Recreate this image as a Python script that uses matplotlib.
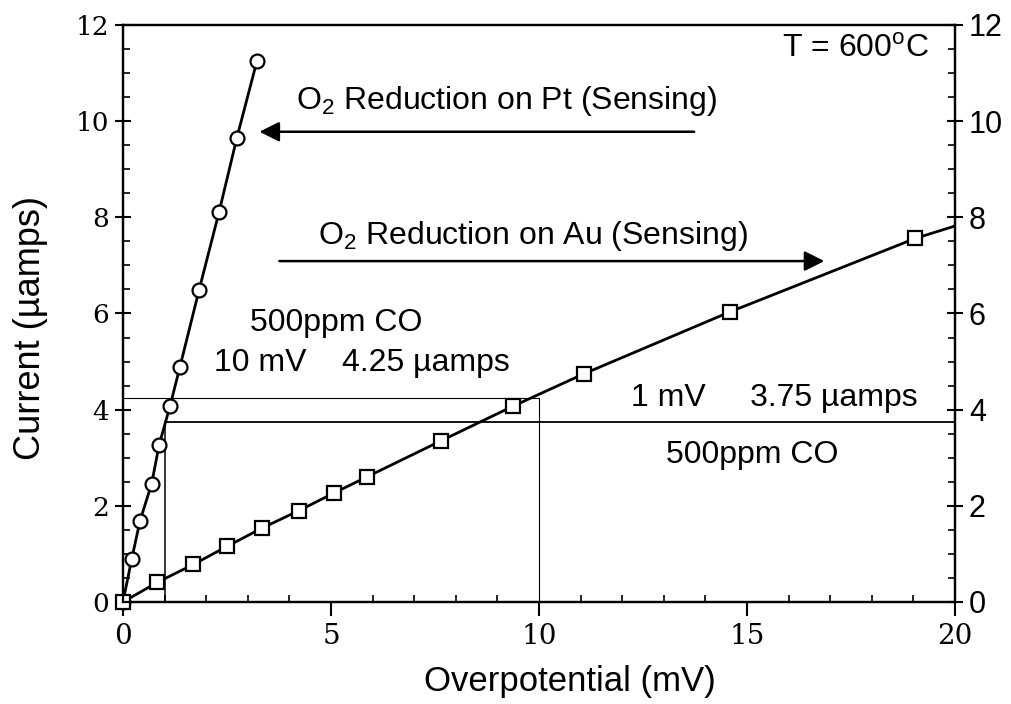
import matplotlib
matplotlib.use("Agg")
import matplotlib.pyplot as plt
from matplotlib.ticker import MultipleLocator

plt.rcParams['font.family'] = ['Liberation Sans', 'DejaVu Sans']
plt.rcParams['mathtext.fontset'] = 'custom'
plt.rcParams['mathtext.rm'] = 'Liberation Sans'

# Pt electrode (circles)
pt_x = [0.0, 0.21, 0.41, 0.69, 0.87, 1.13, 1.37, 1.83, 2.31, 2.74, 3.22]
pt_y = [0.0, 0.89, 1.69, 2.46, 3.27, 4.07, 4.89, 6.49, 8.11, 9.66, 11.25]

# Au electrode (squares)
au_x = [0.0, 0.83, 1.69, 2.51, 3.35, 4.23, 5.08, 5.86, 7.64, 9.37, 11.09, 14.58, 19.04]
au_y = [0.0, 0.41, 0.78, 1.16, 1.54, 1.90, 2.27, 2.60, 3.35, 4.07, 4.75, 6.03, 7.56]
au_line_end = (20.0, 7.82)

# reference readings (500ppm CO)
pt_ref = (1.0, 3.75)
au_ref = (10.0, 4.25)

x_ticks = [0, 5, 10, 15, 20]
y_ticks = [0, 2, 4, 6, 8, 10, 12]

fig = plt.figure(figsize=(10.12, 7.04), dpi=100)
ax = fig.add_axes([0.1215, 0.1449, 0.8222, 0.8196])

ax.set_xlim(0, 20)
ax.set_ylim(0, 12)

# reference lines
ax.plot([pt_ref[0], pt_ref[0]], [0, pt_ref[1]], color='black', lw=1.1)
ax.plot([pt_ref[0], 20], [pt_ref[1], pt_ref[1]], color='black', lw=1.3)
ax.plot([au_ref[0], au_ref[0]], [0, au_ref[1]], color='black', lw=0.8)
ax.plot([0, au_ref[0]], [au_ref[1], au_ref[1]], color='black', lw=0.8)

# data
ax.plot(pt_x, pt_y, color='black', lw=2.0, marker='o', ms=10, mfc='white',
        mec='black', mew=1.6, clip_on=False, zorder=3)
ax.plot(au_x + [au_line_end[0]], au_y + [au_line_end[1]], color='black', lw=2.0, zorder=3)
ax.plot(au_x, au_y, ls='none', marker='s', ms=10, mfc='white', mec='black',
        mew=1.6, clip_on=False, zorder=4)

# arrows
ax.annotate('', xy=(3.28, 9.78), xytext=(13.73, 9.78),
            arrowprops=dict(arrowstyle='-|>', color='black', lw=1.8,
                            mutation_scale=30, shrinkA=0, shrinkB=0))
ax.annotate('', xy=(16.86, 7.09), xytext=(3.76, 7.09),
            arrowprops=dict(arrowstyle='-|>', color='black', lw=1.8,
                            mutation_scale=30, shrinkA=0, shrinkB=0))

fs = 23
ax.text(4.15, 10.42, r'O$_2$ Reduction on Pt (Sensing)', fontsize=fs, va='center', ha='left')
ax.text(4.7, 7.62, r'O$_2$ Reduction on Au (Sensing)', fontsize=fs, va='center', ha='left')
ax.text(15.85, 11.5, r'T = 600$^{\rm o}$C', fontsize=fs, va='center', ha='left')
ax.text(3.05, 5.8, '500ppm CO', fontsize=fs, va='center', ha='left')
ax.text(2.2, 4.98, '10 mV    4.25 \u00b5amps', fontsize=fs, va='center', ha='left')
ax.text(12.2, 4.25, '1 mV     3.75 \u00b5amps', fontsize=fs, va='center', ha='left')
ax.text(13.05, 3.05, '500ppm CO', fontsize=fs, va='center', ha='left')

ax.set_xlabel('Overpotential (mV)', fontsize=25)
ax.set_ylabel('Current (\u00b5amps)', fontsize=26)
ax.xaxis.set_label_coords(0.537, -0.11)
ax.yaxis.set_label_coords(-0.09, 0.475)

for s in ax.spines.values():
    s.set_linewidth(1.6)

ax.set_xticks(x_ticks)
ax.set_yticks(y_ticks)
ax.xaxis.set_minor_locator(MultipleLocator(1))
ax.yaxis.set_minor_locator(MultipleLocator(0.5))
ax.tick_params(axis='x', which='major', direction='out', length=10, width=1.5,
               labelsize=20, pad=5, top=False)
ax.tick_params(axis='x', which='minor', direction='in', length=5, width=1.2, top=False)
ax.tick_params(axis='y', which='major', direction='inout', length=12, width=1.5,
               labelsize=19, pad=4)
ax.tick_params(axis='y', which='minor', direction='in', length=5, width=1.2)
for lbl in ax.get_xticklabels() + ax.get_yticklabels():
    lbl.set_fontfamily('DejaVu Serif')

ax2 = ax.twinx()
ax2.set_ylim(0, 12)
ax2.set_yticks(y_ticks)
ax2.yaxis.set_minor_locator(MultipleLocator(0.5))
ax2.tick_params(axis='y', which='major', direction='inout', length=12, width=1.5,
                labelsize=22, pad=4)
ax2.tick_params(axis='y', which='minor', direction='in', length=5, width=1.2)
for s in ax2.spines.values():
    s.set_linewidth(1.6)

fig.savefig('out.png', dpi=100)
